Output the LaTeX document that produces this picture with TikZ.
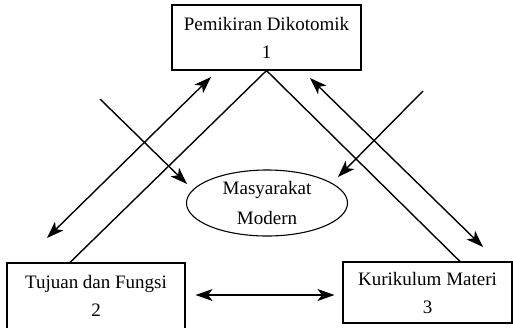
\documentclass[tikz,border=0pt]{standalone}
\usepackage{fontspec}
\setmainfont{Liberation Serif}
\usetikzlibrary{arrows.meta,shapes.geometric}

\tikzset{
  box/.style={draw, line width=1.1pt, align=center, inner sep=0pt,
    font=\fontsize{19}{28}\selectfont},
  oval/.style={draw, ellipse, line width=1.1pt, align=center, inner sep=0pt,
    font=\fontsize{19}{30}\selectfont},
  link/.style={line width=1.4pt},
  tip/.style={link, -{Stealth[length=17pt,width=12pt,inset=4.5pt]}},
  twotip/.style={link, {Stealth[length=17pt,width=12pt,inset=4.5pt]}-{Stealth[length=17pt,width=12pt,inset=4.5pt]}}
}

\begin{document}
\begin{tikzpicture}[x=1pt,y=-1pt]
  \useasboundingbox (0,0) rectangle (513,327);

  \node [box, minimum width=189pt, minimum height=65pt] (dikotomik) at (266.5,37.5) { Pemikiran Dikotomik \\ 1 };
  \node [box, minimum width=178pt, minimum height=66pt] (tujuan) at (96,296) { Tujuan dan Fungsi \\ 2 };
  \node [box, minimum width=169pt, minimum height=61pt] (kurikulum) at (427.5,292.5) { Kurikulum Materi \\ 3 };
  \node [oval, minimum width=161pt, minimum height=66pt] (masyarakat) at (267,203) { Masyarakat \\ Modern };

  % triangle
  \draw [link] (70,0 |- tujuan.north) -- (dikotomik.south) -- (460,0 |- kurikulum.north);

  % free ends
  \coordinate (kiriA) at (47,238);
  \coordinate (kiriB) at (211,77);
  \coordinate (kiriC) at (100,99);
  \coordinate (kiriD) at (187,184);
  \coordinate (kananA) at (310,78);
  \coordinate (kananB) at (483,247);
  \coordinate (kananC) at (423,91);
  \coordinate (kananD) at (338,177);

  \draw [twotip] (kiriA) -- (kiriB);
  \draw [tip] (kiriC) -- (kiriD);
  \draw [twotip] (kananA) -- (kananB);
  \draw [tip] (kananC) -- (kananD);
  \draw [twotip, shorten <=10pt, shorten >=8pt] (tujuan.east |- 0,295) -- (kurikulum.west |- 0,295);
\end{tikzpicture}
\end{document}
